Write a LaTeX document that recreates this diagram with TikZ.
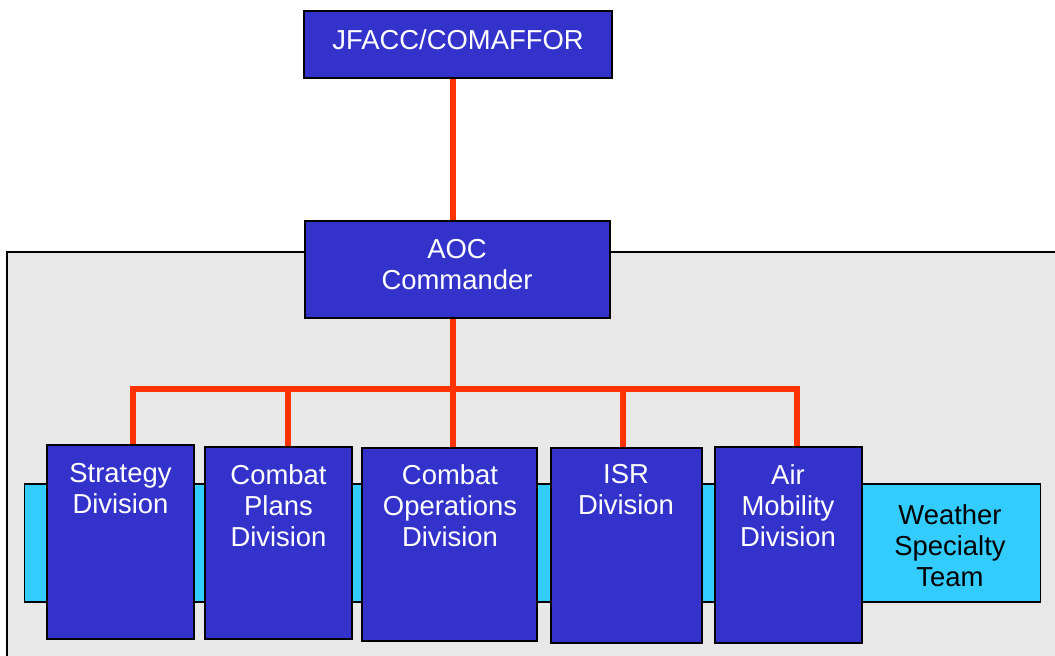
\documentclass[tikz,border=0pt]{standalone}
\usepackage{fontspec}
\setmainfont{Liberation Sans}
\definecolor{aocblue}{HTML}{3333CC}
\definecolor{aoccyan}{HTML}{33CCFF}
\definecolor{aocred}{HTML}{FF3300}
\definecolor{aocgray}{HTML}{E8E8E8}
\tikzset{
	unitbox/.style={draw=black, line width=1.6pt, fill=aocblue, inner sep=0pt},
	unittext/.style={text=white, align=center, inner sep=0pt, font=\fontsize{19.5}{22}\selectfont},
	link/.style={aocred, line width=4pt}
}
\begin{document}
\begin{tikzpicture}[x=0.025cm, y=-0.025cm]
	\useasboundingbox (0,0) rectangle (1055,656);
	\clip (0,0) rectangle (1055,656);
	
	%AOC area
	\fill[aocgray] (7,252) rectangle (1070,670);
	\draw[line width=1.4pt] (7,670) -- (7,252) -- (1070,252);
	
	%links
	\coordinate (bus) at (453,389);
	\foreach \x [count=\i] in {133, 288, 453, 623, 797}{
		\coordinate (drop\i) at (\x, 389);
	}
	
	%weather team
	\node[draw=black, line width=0.8pt, fill=aoccyan, inner sep=0pt, minimum width=25.375cm, minimum height=2.95cm] (band) at (532.5,543) {};
	\node[font=\fontsize{19.5}{22}\selectfont, align=center, inner sep=0pt] (wxtext) at (950,546) {Weather\\Specialty\\Team};
	
	%command boxes
	\node[unitbox, minimum width=7.7cm, minimum height=1.675cm] (jfacc) at (458,44.5) {};
	\node[unittext] (jfacctext) at (458,39.5) {JFACC/COMAFFOR};
	\node[unitbox, minimum width=7.625cm, minimum height=2.425cm] (aoc) at (457.5,269.5) {};
	\node[unittext] (aoctext) at (457,264.5) {AOC\\Commander};
	
	\draw[link] (jfacc.south -| bus) -- (aoc.north -| bus);
	\draw[link] (aoc.south -| bus) -- (bus);
	\draw[link, line cap=rect] (drop1) -- (drop5);
	
	%divisions
	\node[unitbox, minimum width=3.675cm, minimum height=4.85cm] (strat) at (120.5,542) {};
	\node[unitbox, minimum width=3.675cm, minimum height=4.8cm] (plans) at (278.5,543) {};
	\node[unitbox, minimum width=4.375cm, minimum height=4.825cm] (ops) at (449.5,544.5) {};
	\node[unitbox, minimum width=3.775cm, minimum height=4.875cm] (isr) at (626.5,545.5) {};
	\node[unitbox, minimum width=3.675cm, minimum height=4.9cm] (amd) at (788.5,545) {};
	
	\draw[link] (drop1) -- (drop1 |- strat.north);
	\draw[link] (drop2) -- (drop2 |- plans.north);
	\draw[link] (drop3) -- (drop3 |- ops.north);
	\draw[link] (drop4) -- (drop4 |- isr.north);
	\draw[link] (drop5) -- (drop5 |- amd.north);
	
	\node[unittext] (strattext) at (120.5,489) {Strategy\\Division};
	\node[unittext] (planstext) at (278.5,506) {Combat\\Plans\\Division};
	\node[unittext] (opstext) at (450,506) {Combat\\Operations\\Division};
	\node[unittext] (isrtext) at (626,490) {ISR\\Division};
	\node[unittext] (amdtext) at (788,506) {Air\\Mobility\\Division};
\end{tikzpicture}
\end{document}
